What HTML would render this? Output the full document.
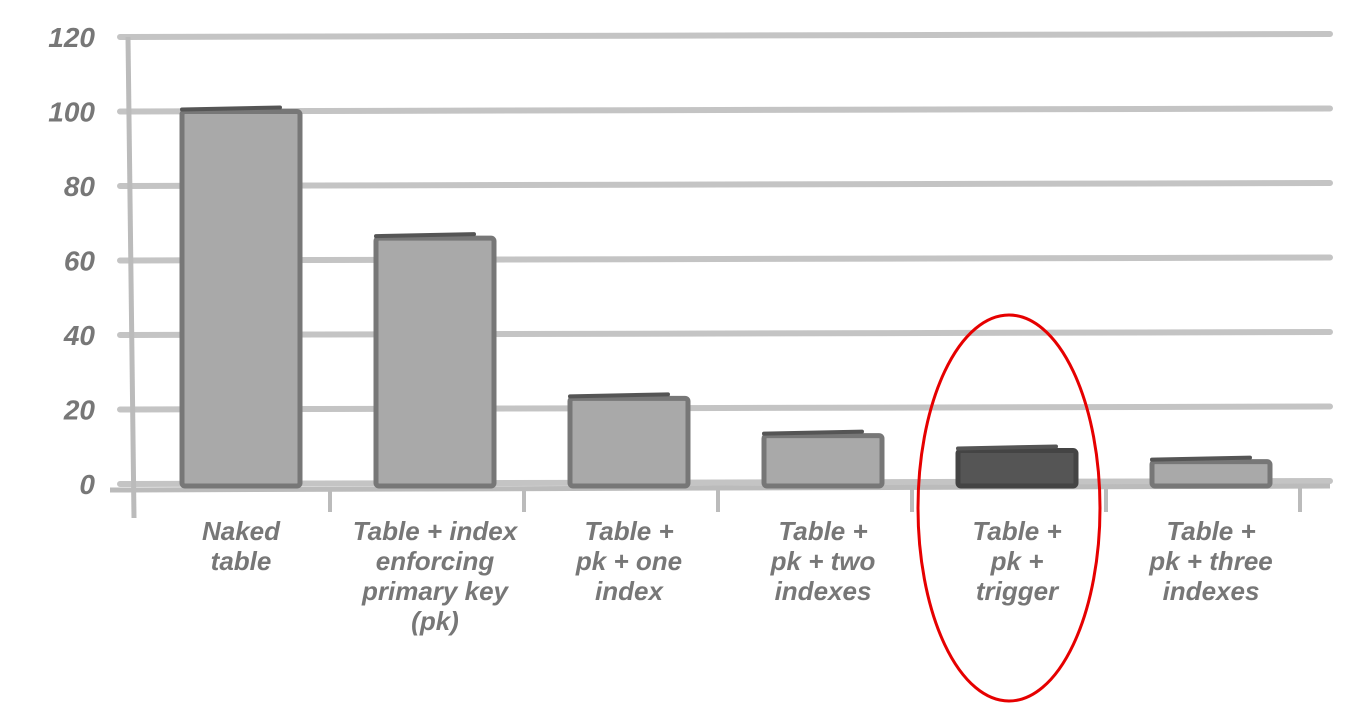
<!DOCTYPE html>
<html><head><meta charset="utf-8"><style>
body{margin:0;background:#fff;}
svg{display:block;font-family:"Liberation Sans",sans-serif;}
</style></head><body>
<svg id="chart" width="1371" height="704" viewBox="0 0 1371 704"></svg>
<script>
const categories=[["Naked","table"],["Table + index","enforcing","primary key","(pk)"],["Table +","pk + one","index"],["Table +","pk + two","indexes"],["Table +","pk +","trigger"],["Table +","pk + three","indexes"]];
const values=[100,66,23,13,9,6];
const yTicks=[0,20,40,60,80,100,120];
const highlightIndex=4;
const svg=document.getElementById('chart');
const NS='http://www.w3.org/2000/svg';
const y0=484,yTop=37,xL=120,xR=1330,catStart=144,catW=194;
const y=v=>y0-(y0-yTop)*v/120;
const xc=i=>catStart+catW*(i+0.5);
function mk(t,a){const e=document.createElementNS(NS,t);for(const k in a)e.setAttribute(k,a[k]);svg.appendChild(e);return e;}
yTicks.forEach(t=>{
  const g=mk('line',{x1:xL,x2:xR,y1:y(t),y2:y(t)-3,stroke:'#c4c4c4','stroke-width':6,'stroke-linecap':'round'});
  
  
  const l=mk('text',{x:95,y:y(t)+10,'text-anchor':'end','font-size':28,'font-weight':'bold','font-style':'italic',fill:'#777'});
  l.textContent=t;
  
  
});
const ax=mk('line',{x1:128,x2:134,y1:37,y2:518,stroke:'#bbb','stroke-width':5});


const xa=mk('line',{x1:110,x2:1330,y1:490,y2:486,stroke:'#bbb','stroke-width':5});


categories.forEach((c,i)=>{
  const tx=catStart+catW*(i+1)-8;
  const tk=mk('line',{x1:tx,x2:tx,y1:488,y2:512,stroke:'#bbb','stroke-width':4});
  
  
  const cx=xc(i),w=118,top=y(values[i]);
  const hl=i===highlightIndex;
  const b=mk('rect',{x:cx-w/2,y:top,width:w,height:y0-top+2,fill:hl?'#555':'#a9a9a9',stroke:hl?'#444':'#777','stroke-width':5,rx:3});
  
  
  const cap=mk('line',{x1:cx-w/2,x2:cx+w/2-20,y1:top-2,y2:top-4,stroke:'#555','stroke-width':4,'stroke-linecap':'round'});
  
  
  c.forEach((line,j)=>{
    const t=mk('text',{x:cx,y:540+j*30,'text-anchor':'middle','font-size':26,'font-weight':'bold','font-style':'italic',fill:'#777'});
    t.textContent=line;
    
    
  });
});
const el=mk('ellipse',{cx:1009,cy:508,rx:91,ry:193,fill:'none',stroke:'#e60000','stroke-width':3});


</script>
</body></html>
